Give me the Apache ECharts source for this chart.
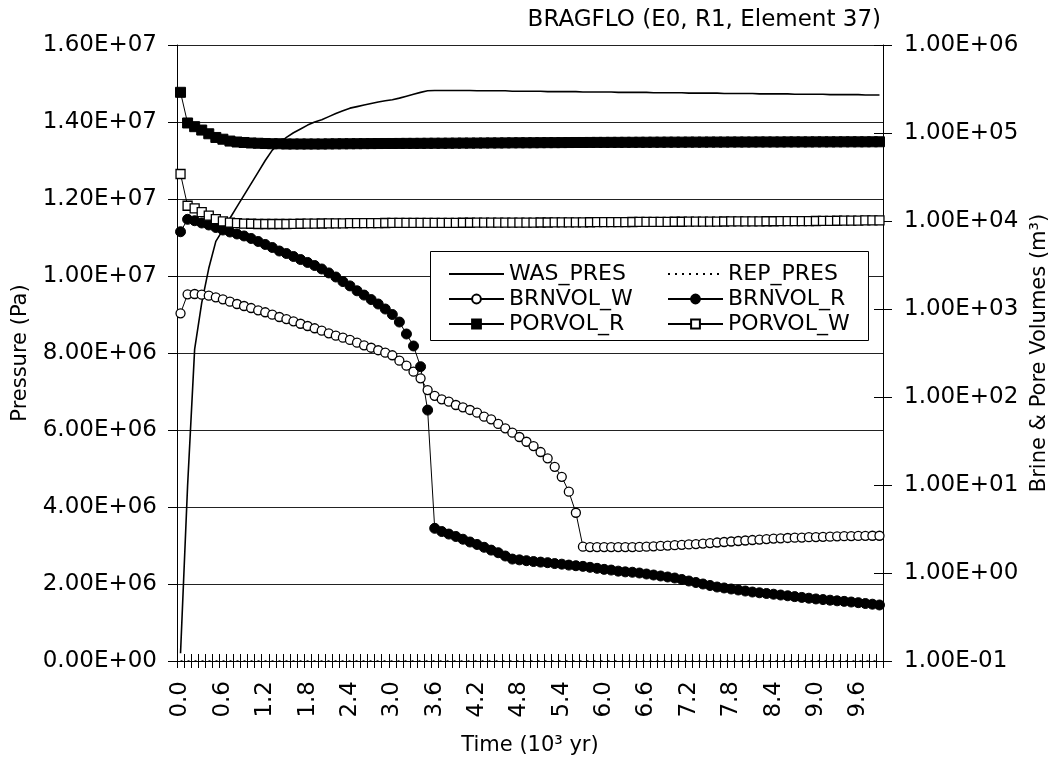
<!DOCTYPE html>
<html>
<head>
<meta charset="utf-8">
<script src="https://cdn.jsdelivr.net/npm/echarts/dist/echarts.min.js"></script>
<style>html,body{margin:0;padding:0;background:#fff}#c{width:1062px;height:764px}</style>
</head>
<body>
<div id="c"></div>
<script>
const categories = ["0.0","0.1","0.2","0.3","0.4","0.5","0.6","0.7","0.8","0.9",
"1.0","1.1","1.2","1.3","1.4","1.5","1.6","1.7","1.8","1.9",
"2.0","2.1","2.2","2.3","2.4","2.5","2.6","2.7","2.8","2.9",
"3.0","3.1","3.2","3.3","3.4","3.5","3.6","3.7","3.8","3.9",
"4.0","4.1","4.2","4.3","4.4","4.5","4.6","4.7","4.8","4.9",
"5.0","5.1","5.2","5.3","5.4","5.5","5.6","5.7","5.8","5.9",
"6.0","6.1","6.2","6.3","6.4","6.5","6.6","6.7","6.8","6.9",
"7.0","7.1","7.2","7.3","7.4","7.5","7.6","7.7","7.8","7.9",
"8.0","8.1","8.2","8.3","8.4","8.5","8.6","8.7","8.8","8.9",
"9.0","9.1","9.2","9.3","9.4","9.5","9.6","9.7","9.8","9.9"];

const WAS_PRES = [
2.0e5,4.55e6,8.1e6,9.3e6,1.02e7,1.09e7,1.12e7,1.15e7,1.18e7,1.21e7,
1.24e7,1.27e7,1.30e7,1.327e7,1.345e7,1.36e7,1.372e7,1.382e7,1.392e7,1.40e7,
1.406e7,1.414e7,1.422e7,1.429e7,1.436e7,1.44e7,1.444e7,1.448e7,1.452e7,1.455e7,
1.458e7,1.462e7,1.467e7,1.472e7,1.477e7,1.481e7,1.482e7,1.482e7,1.482e7,1.482e7,
1.482e7,1.482e7,1.481e7,1.481e7,1.481e7,1.481e7,1.481e7,1.480e7,1.480e7,1.480e7,
1.480e7,1.480e7,1.479e7,1.479e7,1.479e7,1.479e7,1.479e7,1.478e7,1.478e7,1.478e7,
1.478e7,1.478e7,1.477e7,1.477e7,1.477e7,1.477e7,1.477e7,1.476e7,1.476e7,1.476e7,
1.476e7,1.476e7,1.475e7,1.475e7,1.475e7,1.475e7,1.475e7,1.474e7,1.474e7,1.474e7,
1.474e7,1.474e7,1.473e7,1.473e7,1.473e7,1.473e7,1.473e7,1.472e7,1.472e7,1.472e7,
1.472e7,1.472e7,1.471e7,1.471e7,1.471e7,1.471e7,1.471e7,1.470e7,1.470e7,1.470e7];

const REP_PRES = [
0,0,0,0,0,0,0,0,0,0, 0,0,0,0,0,0,0,0,0,0, 0,0,0,0,0,0,0,0,0,0, 0,0,0,0,0,0,0,0,0,0,
0,0,0,0,0,0,0,0,0,0, 0,0,0,0,0,0,0,0,0,0, 0,0,0,0,0,0,0,0,0,0, 0,0,0,0,0,0,0,0,0,0,
0,0,0,0,0,0,0,0,0,0, 0,0,0,0,0,0,0,0,0,0];

const BRNVOL_W = [
894,1469,1481,1455,1416,1358,1289,1211,1140,1082,
1026,966,918,861,811,769,724,680,641,604,
567,529,497,472,445,414,387,363,340,319,
298,259,227,194,163,120,103,94,88.5,81.1,
76.4,71.2,66.3,59.7,55.8,49.4,44.1,39.3,35.1,31.0,
27.7,23.7,20.1,16.1,12.4,8.39,4.84,1.99,1.97,1.97,
1.97,1.97,1.97,1.97,1.97,1.98,1.99,2.01,2.03,2.05,
2.07,2.09,2.11,2.13,2.16,2.19,2.22,2.25,2.28,2.31,
2.34,2.37,2.40,2.43,2.46,2.48,2.50,2.52,2.53,2.55,
2.56,2.58,2.59,2.61,2.62,2.63,2.64,2.645,2.65,2.65];

const BRNVOL_R = [
7550,10450,10070,9490,9010,8440,7900,7500,7120,6760,
6330,5850,5410,5000,4560,4270,3950,3650,3380,3120,
2850,2570,2310,2050,1830,1610,1440,1280,1140,1000,
866,711,520,380,221,71,3.22,2.96,2.77,2.60,
2.42,2.25,2.11,1.96,1.82,1.70,1.56,1.44,1.41,1.38,
1.35,1.33,1.31,1.28,1.26,1.23,1.21,1.19,1.16,1.13,
1.10,1.08,1.05,1.03,1.02,1.00,0.974,0.949,0.925,0.901,
0.877,0.844,0.811,0.78,0.75,0.721,0.693,0.676,0.658,0.641,
0.624,0.608,0.596,0.585,0.574,0.562,0.551,0.539,0.528,0.517,
0.507,0.499,0.491,0.483,0.476,0.468,0.46,0.45,0.442,0.433];

const PORVOL_R = [
2.90e5,1.30e5,1.18e5,1.08e5,9.8e4,8.9e4,8.5e4,8.1e4,7.9e4,7.8e4,
7.7e4,7.65e4,7.6e4,7.55e4,7.55e4,7.5e4,7.5e4,7.5e4,7.5e4,7.5e4,
7.5e4,7.52e4,7.53e4,7.54e4,7.55e4,7.56e4,7.57e4,7.58e4,7.59e4,7.6e4,
7.6e4,7.61e4,7.62e4,7.62e4,7.63e4,7.64e4,7.65e4,7.65e4,7.66e4,7.67e4,
7.68e4,7.68e4,7.69e4,7.7e4,7.71e4,7.71e4,7.72e4,7.73e4,7.74e4,7.74e4,
7.75e4,7.76e4,7.77e4,7.77e4,7.78e4,7.79e4,7.8e4,7.8e4,7.81e4,7.82e4,
7.82e4,7.83e4,7.83e4,7.84e4,7.84e4,7.85e4,7.85e4,7.86e4,7.86e4,7.87e4,
7.87e4,7.87e4,7.88e4,7.88e4,7.88e4,7.89e4,7.89e4,7.89e4,7.9e4,7.9e4,
7.9e4,7.9e4,7.91e4,7.91e4,7.91e4,7.91e4,7.92e4,7.92e4,7.92e4,7.92e4,
7.93e4,7.93e4,7.93e4,7.93e4,7.94e4,7.94e4,7.94e4,7.94e4,7.95e4,7.95e4];

const PORVOL_W = [
3.42e4,1.49e4,1.39e4,1.26e4,1.15e4,1.05e4,9.9e3,9.6e3,9.45e3,9.35e3,
9.3e3,9.25e3,9.25e3,9.25e3,9.25e3,9.25e3,9.27e3,9.3e3,9.32e3,9.35e3,
9.37e3,9.39e3,9.41e3,9.42e3,9.44e3,9.45e3,9.46e3,9.47e3,9.48e3,9.49e3,
9.5e3,9.5e3,9.51e3,9.51e3,9.52e3,9.52e3,9.53e3,9.53e3,9.54e3,9.54e3,
9.55e3,9.55e3,9.56e3,9.56e3,9.57e3,9.57e3,9.58e3,9.58e3,9.59e3,9.59e3,
9.6e3,9.61e3,9.62e3,9.63e3,9.64e3,9.65e3,9.66e3,9.67e3,9.68e3,9.69e3,
9.7e3,9.71e3,9.72e3,9.73e3,9.74e3,9.75e3,9.76e3,9.77e3,9.78e3,9.79e3,
9.8e3,9.81e3,9.82e3,9.83e3,9.84e3,9.85e3,9.86e3,9.87e3,9.88e3,9.89e3,
9.9e3,9.91e3,9.92e3,9.93e3,9.94e3,9.95e3,9.96e3,9.97e3,9.98e3,9.99e3,
1.0e4,1.002e4,1.004e4,1.006e4,1.008e4,1.01e4,1.012e4,1.014e4,1.016e4,1.018e4];

const TITLE = "BRAGFLO (E0, R1, Element 37)";
const X_NAME = "Time (10\u00b3 yr)";
const Y_LEFT_NAME = "Pressure (Pa)";
const Y_RIGHT_NAME = "Brine & Pore Volumes (m\u00b3)";

function sci(v) {
  if (v === 0) return "0.00E+00";
  let e = Math.floor(Math.log10(Math.abs(v)) + 1e-9);
  let m = v / Math.pow(10, e);
  if (Math.abs(m) >= 9.995) { m /= 10; e += 1; }
  return m.toFixed(2) + "E" + (e < 0 ? "-" : "+") + String(Math.abs(e)).padStart(2, "0");
}

const FONT = "'DejaVu Sans', 'Liberation Sans', Arial, sans-serif";
const chart = echarts.init(document.getElementById('c'), null, {renderer: 'canvas'});

const openMark = {color: '#fff', borderColor: '#000', borderWidth: 1.3};
const filled = {color: '#000', borderColor: '#000', borderWidth: 1};
const noSym = {color: 'rgba(0,0,0,0)', borderColor: 'rgba(0,0,0,0)', borderWidth: 0};
const legendText = {fontFamily: FONT, fontSize: 22, color: '#000'};

const option = {
  animation: false,
  backgroundColor: '#fff',
  textStyle: {fontFamily: FONT, color: '#000'},
  title: {
    text: TITLE, right: 176, top: 4,
    textStyle: {fontFamily: FONT, fontSize: 23, fontWeight: 'normal', color: '#000'}
  },
  grid: {left: 177, right: 179, top: 45, bottom: 103},
  legend: [
    {
      data: [{name: 'WAS_PRES', itemStyle: noSym}, 'BRNVOL_W', 'PORVOL_R'],
      orient: 'vertical', left: 443, top: 258, itemGap: 3,
      itemWidth: 55, itemHeight: 11, selectedMode: false, z: 200,
      textStyle: legendText
    },
    {
      data: [{name: 'REP_PRES', itemStyle: noSym}, 'BRNVOL_R', 'PORVOL_W'],
      orient: 'vertical', left: 662, top: 258, itemGap: 3,
      itemWidth: 55, itemHeight: 11, selectedMode: false, z: 200,
      textStyle: legendText
    }
  ],
  graphic: [{
    type: 'rect', left: 430, top: 251, z: 100,
    shape: {width: 438, height: 89},
    style: {fill: '#fff', stroke: '#000', lineWidth: 1}
  }],
  xAxis: [
    {
      type: 'category', data: categories, boundaryGap: true, position: 'bottom',
      name: X_NAME, nameLocation: 'middle', nameGap: 74,
      nameTextStyle: {fontFamily: FONT, fontSize: 21, color: '#000'},
      axisLine: {lineStyle: {color: '#000', width: 1}},
      axisTick: {show: true, interval: 0, length: 7, lineStyle: {color: '#000'}},
      axisLabel: {interval: 5, rotate: 90, margin: 20, fontFamily: FONT, fontSize: 23, color: '#000'},
      splitLine: {show: false}
    },
    {
      type: 'category', data: categories, boundaryGap: true, position: 'bottom',
      axisLine: {show: false},
      axisTick: {show: true, inside: true, interval: 0, length: 7, lineStyle: {color: '#000'}},
      axisLabel: {show: false},
      splitLine: {show: false}
    }
  ],
  yAxis: [
    {
      type: 'value', min: 0, max: 1.6e7, interval: 2e6, position: 'left',
      name: Y_LEFT_NAME, nameLocation: 'middle', nameGap: 146, nameRotate: 90,
      nameTextStyle: {fontFamily: FONT, fontSize: 21, color: '#000'},
      axisLine: {show: true, lineStyle: {color: '#000', width: 1}},
      axisTick: {show: true, length: 9, lineStyle: {color: '#000'}},
      axisLabel: {formatter: sci, margin: 20, fontFamily: FONT, fontSize: 23, color: '#000'},
      splitLine: {show: true, lineStyle: {color: '#222', width: 1}}
    },
    {
      type: 'log', logBase: 10, min: 0.1, max: 1e6, position: 'right',
      name: Y_RIGHT_NAME, nameLocation: 'middle', nameGap: 146, nameRotate: 90,
      nameTextStyle: {fontFamily: FONT, fontSize: 21, color: '#000'},
      axisLine: {show: true, lineStyle: {color: '#000', width: 1}},
      axisTick: {show: true, length: 9, lineStyle: {color: '#000'}},
      axisLabel: {formatter: sci, margin: 21, fontFamily: FONT, fontSize: 23, color: '#000'},
      splitLine: {show: false},
      minorTick: {show: false}
    },
    {
      type: 'log', logBase: 10, min: 0.1, max: 1e6, position: 'right',
      axisLine: {show: false},
      axisTick: {show: true, inside: true, length: 9, lineStyle: {color: '#000'}},
      axisLabel: {show: false},
      splitLine: {show: false}
    }
  ],
  series: [
    {
      name: 'WAS_PRES', type: 'line', xAxisIndex: 0, yAxisIndex: 0, data: WAS_PRES,
      showSymbol: false, symbol: 'none', z: 5,
      lineStyle: {color: '#000', width: 1.6}, itemStyle: {color: '#000'}
    },
    {
      name: 'REP_PRES', type: 'line', xAxisIndex: 0, yAxisIndex: 0, data: REP_PRES,
      showSymbol: false, symbol: 'none', z: 5,
      lineStyle: {color: '#000', width: 1.6, type: [2, 5]}, itemStyle: {color: '#000'}
    },
    {
      name: 'BRNVOL_W', type: 'line', xAxisIndex: 0, yAxisIndex: 1, data: BRNVOL_W,
      symbol: 'circle', symbolSize: 9, showAllSymbol: true, z: 6,
      lineStyle: {color: '#000', width: 1}, itemStyle: openMark
    },
    {
      name: 'BRNVOL_R', type: 'line', xAxisIndex: 0, yAxisIndex: 1, data: BRNVOL_R,
      symbol: 'circle', symbolSize: 10, showAllSymbol: true, z: 6,
      lineStyle: {color: '#000', width: 1}, itemStyle: filled
    },
    {
      name: 'PORVOL_R', type: 'line', xAxisIndex: 0, yAxisIndex: 1, data: PORVOL_R,
      symbol: 'rect', symbolSize: 10, showAllSymbol: true, z: 6,
      lineStyle: {color: '#000', width: 1}, itemStyle: filled
    },
    {
      name: 'PORVOL_W', type: 'line', xAxisIndex: 0, yAxisIndex: 1, data: PORVOL_W,
      symbol: 'rect', symbolSize: 9, showAllSymbol: true, z: 6,
      lineStyle: {color: '#000', width: 1}, itemStyle: openMark
    }
  ]
};
chart.setOption(option);
</script>
</body>
</html>
